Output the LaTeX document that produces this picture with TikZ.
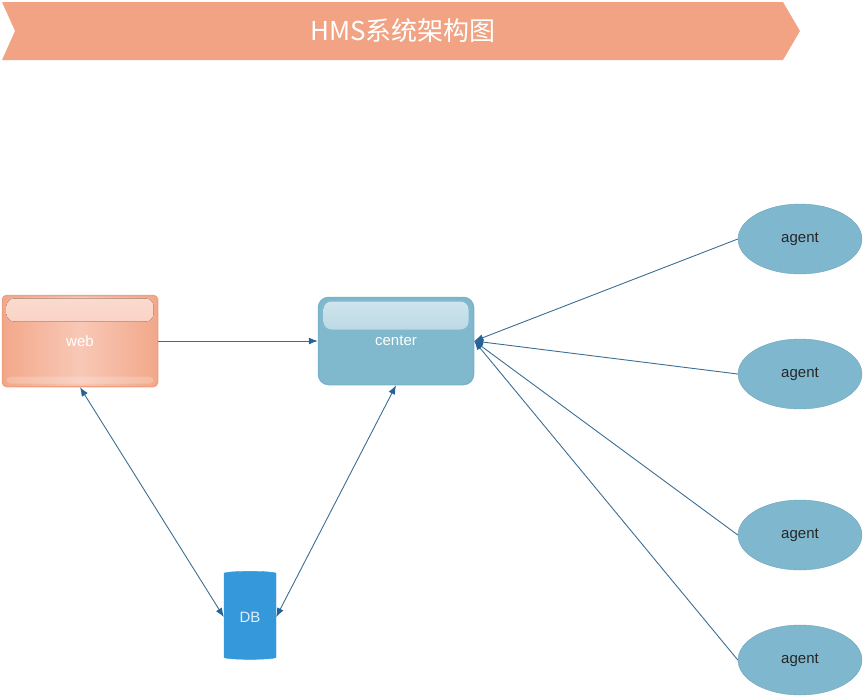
\documentclass[tikz,border=0pt]{standalone}
\usepackage{fontspec}
\setmainfont{Liberation Sans}
\newfontfamily\cjk{Noto Sans CJK SC}
\usepackage{tikz}
\usetikzlibrary{positioning, arrows.meta, shapes.geometric}

\begin{document}
\begin{tikzpicture}[x=1pt, y=-1pt,
webbox/.style={draw=webline, line width=1.5pt, rounded corners=4pt, minimum width=155pt, minimum height=91pt,
  left color=webedge, right color=webedge, middle color=webmid, text=white, font=\fontsize{15}{18}\selectfont,
  path picture={\fill[top color=white!35!webmid, bottom color=webmid!80!webedge, rounded corners=8pt] ([xshift=4pt,yshift=-3pt]path picture bounding box.north west) rectangle ([xshift=-4pt,yshift=-26pt]path picture bounding box.north east);
    \fill[white, opacity=0.2, rounded corners=4pt] ([xshift=4pt,yshift=10pt]path picture bounding box.south west) rectangle ([xshift=-4pt,yshift=3pt]path picture bounding box.south east);}},
centerbox/.style={draw=centerline, line width=1.5pt, rounded corners=10pt, minimum width=155pt, minimum height=87pt,
  fill=centerfill, text=white, font=\fontsize{15}{18}\selectfont,
  path picture={\fill[top color=white!65!centerfill, bottom color=white!15!centerfill, rounded corners=8pt] ([xshift=5pt,yshift=-4pt]path picture bounding box.north west) rectangle ([xshift=-5pt,yshift=-32pt]path picture bounding box.north east);}},
dbstore/.style={cylinder, shape border rotate=90, aspect=0.15, minimum width=52pt, minimum height=88pt,
  fill=dbfill, draw=dbfill, text=white!85!dbfill, font=\fontsize{15}{18}\selectfont},
agentnode/.style={ellipse, fill=agentfill, draw=agentfill!90!black, minimum width=124pt, minimum height=70pt,
  text=black!85, font=\fontsize{15}{18}\selectfont},
arrow/.style={draw=linkline, line width=0.9pt, -{Latex[length=9pt, width=7pt, color=linktip]}},
dblarrow/.style={draw=linkline, line width=0.9pt, {Latex[length=9pt, width=7pt, color=linktip]}-{Latex[length=9pt, width=7pt, color=linktip]}} ]

% Define colors
\definecolor{banner}{RGB}{241, 163, 132}
\definecolor{webline}{RGB}{240, 160, 128}
\definecolor{webedge}{RGB}{242, 168, 138}
\definecolor{webmid}{RGB}{248, 200, 182}
\definecolor{centerfill}{RGB}{128, 184, 206}
\definecolor{centerline}{RGB}{122, 178, 201}
\definecolor{dbfill}{RGB}{52, 152, 219}
\definecolor{agentfill}{RGB}{127, 184, 206}
\definecolor{linkline}{RGB}{60, 110, 148}
\definecolor{linktip}{RGB}{38, 98, 150}

\useasboundingbox (0,0) rectangle (865,699);

% Title banner
\fill[banner] (2,2) -- (783,2) -- (800,31) -- (783,60) -- (2,60) -- (15,31) -- cycle;
\node[text=white, font=\cjk\fontsize{26}{30}\selectfont] (title) at (403,31) {HMS系统架构图};

% Nodes
\node[webbox] (web) at (80,341) {web};
\node[centerbox] (center) at (396,341) {center};
\node[dbstore] (db) at (250,617) {DB};
\node[agentnode] (agent1) at (800,239) {agent};
\node[agentnode] (agent2) at (800,374) {agent};
\node[agentnode] (agent3) at (800,535) {agent};
\node[agentnode] (agent4) at (800,660) {agent};

% Arrows
\draw[arrow] (web) -- (center);
\draw[dblarrow] (web.south) -- (db.west);
\draw[dblarrow] (center.south) -- (db.east);
\draw[arrow] (agent1.west) -- (center.east);
\draw[arrow] (agent2.west) -- (center.east);
\draw[arrow] (agent3.west) -- (center.east);
\draw[arrow] (agent4.west) -- (center.east);

\end{tikzpicture}
\end{document}
